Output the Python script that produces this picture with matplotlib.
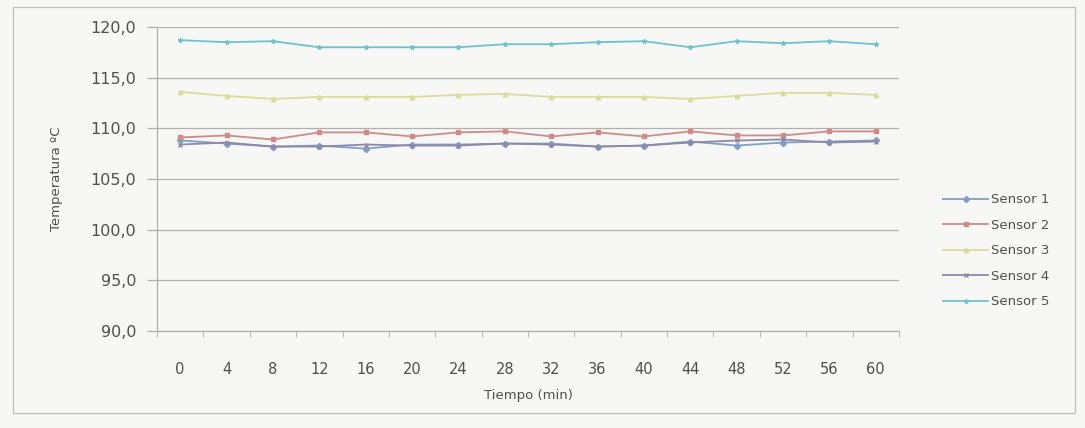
import matplotlib
matplotlib.use("Agg")
import matplotlib.pyplot as plt
from matplotlib.patches import Rectangle
from matplotlib.ticker import FixedLocator, FuncFormatter

# Time axis (minutes) and readings for each sensor (°C)
tiempo = [0, 4, 8, 12, 16, 20, 24, 28, 32, 36, 40, 44, 48, 52, 56, 60]

sensor_1 = [108.8, 108.5, 108.2, 108.3, 108.0, 108.4, 108.4, 108.5,
            108.5, 108.2, 108.3, 108.7, 108.3, 108.6, 108.7, 108.8]
sensor_2 = [109.1, 109.3, 108.9, 109.6, 109.6, 109.2, 109.6, 109.7,
            109.2, 109.6, 109.2, 109.7, 109.3, 109.3, 109.7, 109.7]
sensor_3 = [113.6, 113.2, 112.9, 113.1, 113.1, 113.1, 113.3, 113.4,
            113.1, 113.1, 113.1, 112.9, 113.2, 113.5, 113.5, 113.3]
sensor_4 = [108.4, 108.6, 108.2, 108.2, 108.4, 108.3, 108.3, 108.5,
            108.4, 108.2, 108.3, 108.6, 108.8, 108.9, 108.6, 108.7]
sensor_5 = [118.7, 118.5, 118.6, 118.0, 118.0, 118.0, 118.0, 118.3,
            118.3, 118.5, 118.6, 118.0, 118.6, 118.4, 118.6, 118.3]

series = [
    ("Sensor 1", sensor_1, "#7f9fc9", "D"),
    ("Sensor 2", sensor_2, "#d08a88", "s"),
    ("Sensor 3", sensor_3, "#d9dd9c", "^"),
    ("Sensor 4", sensor_4, "#8e88aa", "x"),
    ("Sensor 5", sensor_5, "#6cc3cf", "*"),
]

y_ticks = [90, 95, 100, 105, 110, 115, 120]

text_color = "#4f4f4f"
grid_color = "#b0b0b0"
paper = "#f7f7f5"

fig = plt.figure(figsize=(10.85, 4.28), dpi=100, facecolor=paper)

# Outer chart border
fig.patches.append(Rectangle((13 / 1085, 1 - 413 / 428), (1075 - 13) / 1085,
                             (413 - 7) / 428, transform=fig.transFigure,
                             fill=False, edgecolor="#bdbdbd", linewidth=0.9))

ax = fig.add_axes([157 / 1085, 1 - 331 / 428, (899 - 157) / 1085, (331 - 27) / 428])
ax.set_facecolor("none")

x = list(range(len(tiempo)))
for name, vals, color, marker in series:
    ax.plot(x, vals, color=color, linewidth=1.3, marker=marker, markersize=3.2,
            markerfacecolor=color, markeredgecolor=color, label=name)

ax.set_xlim(-0.5, len(tiempo) - 0.5)
ax.set_ylim(90, 120)

ax.set_yticks(y_ticks)
ax.yaxis.set_major_formatter(FuncFormatter(lambda v, p: f"{v:.1f}".replace(".", ",")))
ax.grid(axis="y", color=grid_color, linewidth=0.9)
ax.set_axisbelow(True)

ax.set_xticks(x)
ax.set_xticklabels([str(t) for t in tiempo])
ax.xaxis.set_minor_locator(FixedLocator([i - 0.5 for i in range(len(tiempo) + 1)]))
ax.tick_params(axis="x", which="major", length=0, pad=22, labelsize=10.5,
               labelcolor=text_color)
ax.tick_params(axis="x", which="minor", length=4, color=grid_color)
ax.tick_params(axis="y", which="major", length=7, width=0.9, color=grid_color,
               pad=8, labelsize=11.5, labelcolor=text_color)

for side in ("top", "right"):
    ax.spines[side].set_visible(False)
ax.spines["left"].set_color(grid_color)
ax.spines["bottom"].set_color(grid_color)
ax.spines["left"].set_linewidth(0.9)
ax.spines["bottom"].set_linewidth(0.9)

ax.set_xlabel("Tiempo (min)", fontsize=9.5, color=text_color, labelpad=9)
ax.set_ylabel("Temperatura ºC", fontsize=9.5, color=text_color, labelpad=20)

leg = fig.legend(loc="upper left", bbox_to_anchor=(938 / 1085, 1 - 188 / 428),
                 frameon=False, fontsize=9.5, handlelength=3.4,
                 labelspacing=0.95, handletextpad=0.25, borderaxespad=0)
for t in leg.get_texts():
    t.set_color(text_color)

fig.savefig("out.png", dpi=100, facecolor=paper)
